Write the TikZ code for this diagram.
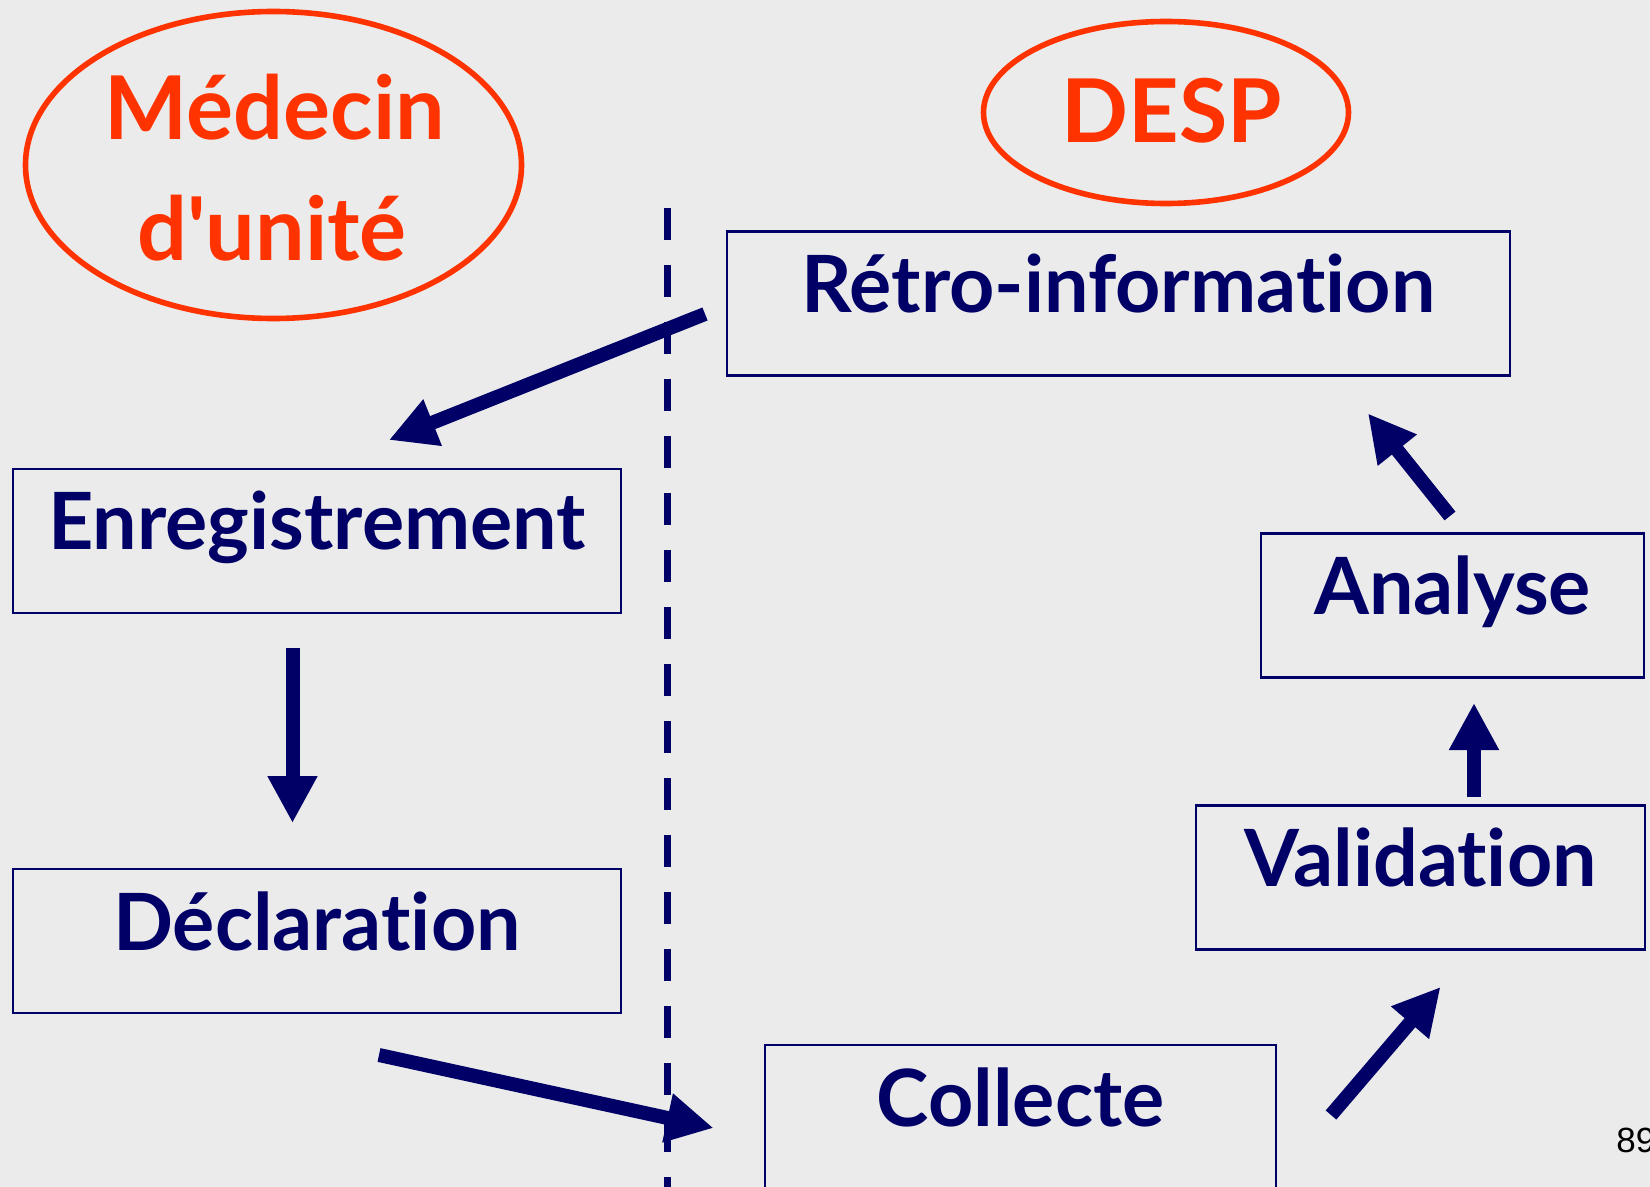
\documentclass[tikz,border=0pt]{standalone}
\usepackage{fontspec}
\setmainfont{Lato}[Ligatures=NoCommon]
\newfontfamily\pagefont{Liberation Sans}
\usetikzlibrary{arrows.meta,shapes.geometric}
\definecolor{fond}{HTML}{EBEBEB}
\definecolor{marine}{HTML}{000066}
\definecolor{orangeR}{HTML}{FF3300}
\tikzset{
  x=0.5pt, y=-0.5pt,
  box/.style={draw=marine, line width=1.3pt, minimum height=72pt, inner sep=0pt,
    text height=15pt, text depth=6pt, text=marine,
    font=\bfseries\fontsize{39.5pt}{47pt}\selectfont},
  bulle/.style={ellipse, draw=orangeR, line width=2.8pt, inner sep=0pt},
  titre/.style={anchor=base, text=orangeR, font=\bfseries\fontsize{44pt}{52pt}\selectfont},
  flow/.style={marine, line width=7pt, -{Triangle[width=23.5pt,length=23.5pt]}},
  separ/.style={marine, line width=3.5pt, dash pattern=on 16pt off 12.5pt},
}
\begin{document}
\begin{tikzpicture}
\useasboundingbox[fill=fond] (0,0) rectangle (1650,1187);
% les deux acteurs
\node[bulle, minimum width=248pt, minimum height=153.5pt] (medecin) at (273.5,165) {};
\node[bulle, minimum width=182.5pt, minimum height=91pt] (desp) at (1166,112.5) {};
\node[titre] (medecinA) at (275,140) {Médecin};
\node[titre] (medecinB) at (272,261) {d\textquotesingle unité};
\node[titre] (despA) at (1172,143) {DESP};
% les etapes
\foreach \nom/\x/\y/\w/\txt in {retro/1118.5/303.5/391.5pt/Rétro-information,
    enreg/317/541/304pt/Enregistrement, decl/317/941/304pt/Déclaration,
    analyse/1452.5/605.5/191.5pt/Analyse, valid/1420.5/877.5/224.5pt/Validation,
    collecte/1020.5/1117/255.5pt/Collecte} {
  \node[box, minimum width=\w] (\nom) at (\x,\y) {\txt};
};
% les fleches
\coordinate (r1) at (705,314);   \coordinate (e1) at (389,440);
\coordinate (e2) at (292.5,648); \coordinate (d1) at (292.5,823);
\coordinate (d2) at (379,1055);  \coordinate (c1) at (713.5,1128);
\coordinate (c2) at (1331,1115); \coordinate (v1) at (1440.5,987);
\coordinate (v2) at (1474,797);  \coordinate (a1) at (1474,703);
\coordinate (a2) at (1450,516);  \coordinate (r2) at (1368,413.5);
\draw[flow] (r1) -- (e1);
\draw[flow] (e2) -- (d1);
\draw[flow] (d2) -- (c1);
\draw[flow] (c2) -- (v1);
\draw[flow] (v2) -- (a1);
\draw[flow] (a2) -- (r2);
% separation
\coordinate (haut) at (667,208); \coordinate (bas) at (667,1195);
\draw[separ] (haut) -- (bas);
\node[anchor=base west, inner sep=0pt, font=\pagefont\fontsize{17.5pt}{21pt}\selectfont] (numero) at (1616,1152) {89};
\end{tikzpicture}
\end{document}
